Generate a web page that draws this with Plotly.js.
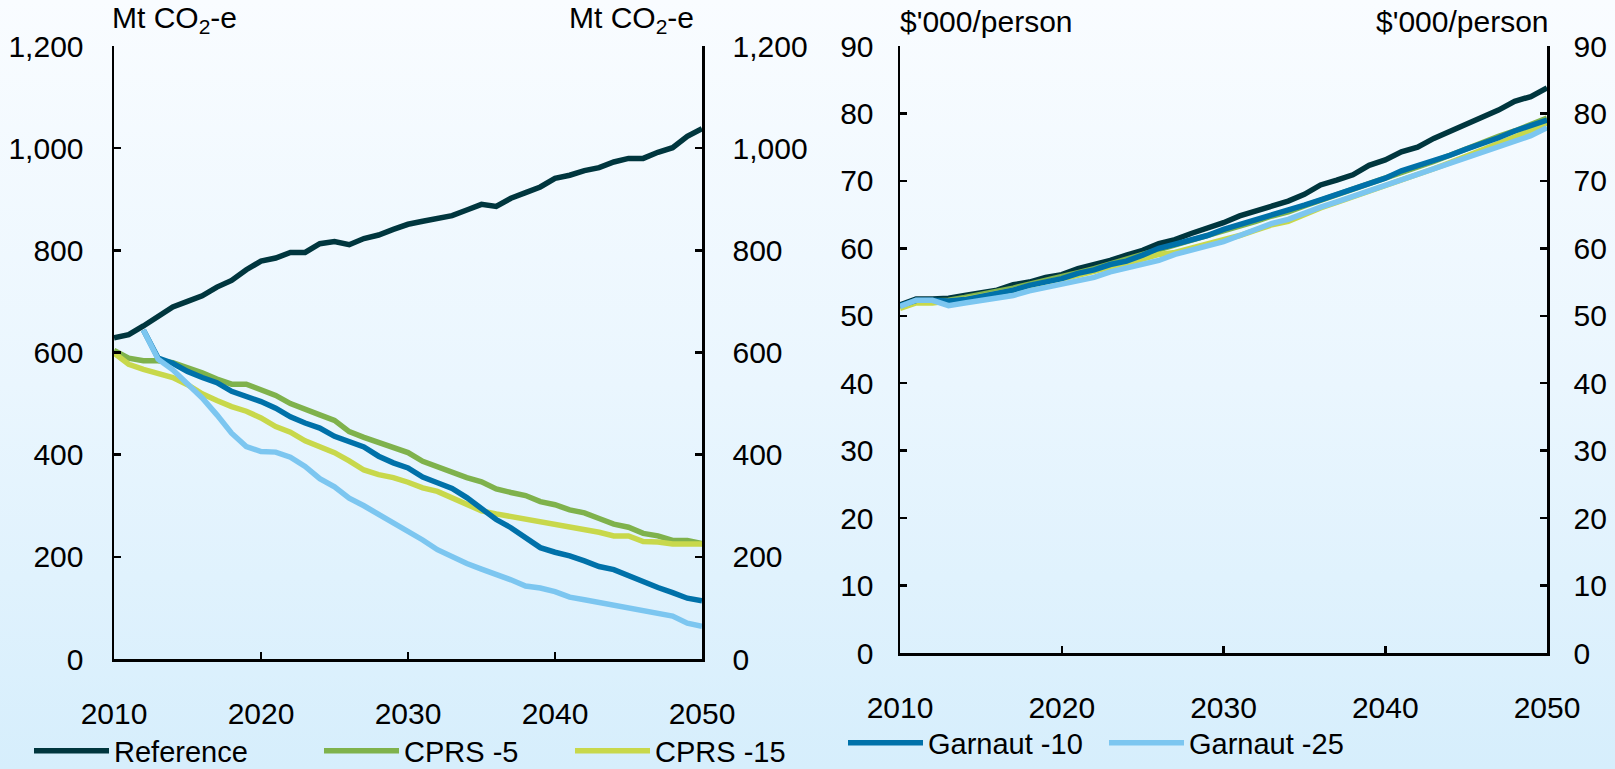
<!DOCTYPE html>
<html>
<head>
<meta charset="utf-8">
<script src="https://cdn.plot.ly/plotly-3.0.1.min.js"></script>
<style>
  html, body { margin: 0; padding: 0; }
  body { width: 1615px; height: 769px; background: linear-gradient(to bottom, #f9fcff 0%, #eaf6fe 50%, #d6eefc 100%); overflow: hidden; }
  #chart { width: 1615px; height: 769px; }
</style>
</head>
<body>
<div id="chart"></div>
<script>
// ---------- data ----------
var years = [2010,2011,2012,2013,2014,2015,2016,2017,2018,2019,
             2020,2021,2022,2023,2024,2025,2026,2027,2028,2029,
             2030,2031,2032,2033,2034,2035,2036,2037,2038,2039,
             2040,2041,2042,2043,2044,2045,2046,2047,2048,2049,2050];

var seriesNames = ['Reference', 'CPRS -5', 'CPRS -15', 'Garnaut -10', 'Garnaut -25'];

// Emissions, Mt CO2-e (left panel)
var emisReference = [629,635,652,670,689,700,711,728,741,762,
                     779,785,796,796,813,817,811,823,830,841,
                     851,857,863,868,879,890,886,902,913,924,
                     941,947,956,962,973,980,980,992,1001,1023,1038];
var emisCprs5 = [604,589,584,584,580,571,560,548,538,538,
                 527,516,500,488,478,467,445,434,424,413,
                 404,387,376,365,355,347,333,326,320,308,
                 302,292,286,275,264,258,246,241,232,232,226];
var emisCprs15 = [599,577,567,558,551,537,519,506,494,485,
                  472,455,444,427,416,404,388,370,361,355,
                  346,335,328,316,302,290,284,279,274,267,
                  262,257,253,248,241,241,230,229,225,225,225];
var emisGarnaut10 = [null,null,644,589,579,563,551,541,524,514,
                     504,491,474,462,452,436,425,415,397,384,
                     374,356,345,334,316,293,273,257,239,218,
                     209,202,192,181,175,163,151,140,130,119,114];
var emisGarnaut25 = [null,null,644,587,566,540,511,478,442,416,
                     406,405,395,377,353,337,315,300,284,267,
                     252,233,214,199,187,176,166,155,143,139,
                     132,121,116,111,106,100,95,89,84,70,64];

// GNP per person, $'000/person (right panel)
var gdpReference = [51.6,52.5,52.5,52.6,53.0,53.4,53.8,54.6,55.0,55.7,
                    56.1,57.0,57.5,58.2,59.0,59.7,60.7,61.3,62.2,62.9,
                    63.8,64.8,65.5,66.3,67.0,68.0,69.4,70.1,70.9,72.3,
                    73.1,74.3,75.0,76.3,77.3,78.5,79.3,80.5,81.8,82.5,83.8];
var gdpCprs5 = [51.4,52.2,52.2,52.3,52.7,53.1,53.5,54.1,54.7,55.2,
                55.7,56.4,57.0,57.7,58.3,59.1,59.8,60.4,61.0,61.7,
                62.6,63.3,64.0,64.8,65.4,66.3,67.1,67.9,68.7,69.5,
                70.3,71.2,72.0,72.9,73.8,74.8,75.7,76.6,77.4,78.3,79.3];
var gdpCprs15 = [51.1,51.9,51.9,52.1,52.5,52.9,53.3,53.8,54.4,54.9,
                 55.3,56.0,56.6,57.3,57.8,58.4,59.1,59.4,60.0,60.6,
                 61.2,61.9,62.7,63.5,64.0,65.1,66.0,66.8,67.6,68.5,
                 69.4,70.2,71.0,71.8,72.7,73.6,74.5,75.5,76.5,77.5,78.6];
var gdpGarnaut10 = [51.5,52.3,52.3,52.2,52.4,52.8,53.2,53.8,54.5,55.0,
                    55.5,56.3,56.8,57.6,58.1,59.0,60.0,60.6,61.2,61.9,
                    62.8,63.5,64.2,64.8,65.5,66.4,67.2,68.0,68.7,69.6,
                    70.4,71.5,72.2,73.0,73.8,74.7,75.5,76.4,77.4,78.2,79.0];
var gdpGarnaut25 = [51.4,52.3,52.3,51.5,51.9,52.3,52.7,53.0,53.7,54.2,
                    54.5,55.2,55.7,56.5,57.0,57.5,58.2,59.1,59.7,60.3,
                    61.0,61.9,62.8,63.7,64.3,65.3,66.1,66.9,67.7,68.6,
                    69.4,70.1,70.9,71.7,72.6,73.3,74.2,75.0,75.9,76.7,77.9];

var leftUnit = 'Mt CO<sub>2</sub>-e';
var rightUnit = "$'000/person";

// ---------- styling ----------
var colors = ['#00363e', '#7fb24c', '#c8d84b', '#0071a9', '#7cc6f0'];
var LW = 5.5;
var FONT = 'Liberation Sans, Arial, sans-serif';
var FS = 30;
var LFS = 29;

var emisData = [emisReference, emisCprs5, emisCprs15, emisGarnaut10, emisGarnaut25];
var gdpData = [gdpReference, gdpCprs5, gdpCprs15, gdpGarnaut10, gdpGarnaut25];
var legendIds = ['legend', 'legend2', 'legend3', 'legend4', 'legend5'];

var traces = [];
for (var i = 0; i < 5; i++) {
  traces.push({
    type: 'scatter', mode: 'lines', x: years, y: emisData[i],
    name: seriesNames[i], legend: legendIds[i], legendgroup: seriesNames[i],
    line: {color: colors[i], width: LW}, xaxis: 'x', yaxis: i >= 3 ? 'y2' : 'y',
    connectgaps: false, hoverinfo: 'skip'
  });
}
for (var j = 0; j < 5; j++) {
  traces.push({
    type: 'scatter', mode: 'lines', x: years, y: gdpData[j],
    name: seriesNames[j], legendgroup: seriesNames[j], showlegend: false,
    line: {color: colors[j], width: LW}, xaxis: 'x2', yaxis: j >= 3 ? 'y4' : 'y3',
    hoverinfo: 'skip'
  });
}

var W = 1615, H = 769;
function px(v) { return v / W; }
function py(v) { return (H - v) / H; }

var tickFont = {family: FONT, size: FS, color: '#000'};
function xAxis(domain, anchor) {
  return {
    domain: domain, anchor: anchor, range: [2010, 2050], tick0: 2010, dtick: 10,
    ticks: 'inside', ticklen: 7, tickwidth: 2.5, tickcolor: '#000',
    showline: true, linewidth: 2.5, linecolor: '#000', mirror: false,
    showgrid: false, zeroline: false, tickfont: tickFont, ticklabelstandoff: 26,
    fixedrange: true
  };
}
function yAxis(domain, range, dtick, fmt, side, overlay, anchor, standoff) {
  var a = {
    domain: domain, range: range, dtick: dtick, tick0: 0, tickformat: fmt, side: side, anchor: anchor,
    ticks: 'inside', ticklen: 7, tickwidth: 2.5, tickcolor: '#000',
    showline: true, linewidth: 2.5, linecolor: '#000',
    showgrid: false, zeroline: false, tickfont: tickFont, ticklabelstandoff: standoff,
    fixedrange: true
  };
  if (overlay) a.overlaying = overlay;
  return a;
}

var leftX = [px(114), px(702)];
var rightX = [px(900), px(1547)];
var leftY = [py(659), py(46)];
var rightY = [py(653), py(46)];

function legendCfg(xp, yp) {
  return {
    x: px(xp), y: py(yp), xanchor: 'left', yanchor: 'middle', orientation: 'h',
    bgcolor: 'rgba(0,0,0,0)', borderwidth: 0, itemwidth: 75, itemclick: false, itemdoubleclick: false,
    font: {family: FONT, size: LFS, color: '#000'}
  };
}

var annFont = {family: FONT, size: FS, color: '#000'};
var layout = {
  width: W, height: H,
  margin: {l: 0, r: 0, t: 0, b: 0, autoexpand: false},
  paper_bgcolor: 'rgba(0,0,0,0)', plot_bgcolor: 'rgba(0,0,0,0)',
  font: {family: FONT, size: FS, color: '#000'},
  xaxis: xAxis(leftX, 'y'),
  yaxis: yAxis(leftY, [0, 1200], 200, ',d', 'left', null, 'x', 22),
  yaxis2: yAxis(leftY, [0, 1200], 200, ',d', 'right', 'y', 'x', 22),
  xaxis2: xAxis(rightX, 'y3'),
  yaxis3: yAxis(rightY, [0, 90], 10, 'd', 'left', null, 'x2', 18),
  yaxis4: yAxis(rightY, [0, 90], 10, 'd', 'right', 'y3', 'x2', 18),
  legend: legendCfg(29, 751),
  legend2: legendCfg(319, 751),
  legend3: legendCfg(570, 751),
  legend4: legendCfg(843, 743),
  legend5: legendCfg(1104, 743),
  annotations: [
    {text: leftUnit, xref: 'x domain', yref: 'y domain', x: 0, y: 1, xanchor: 'left', yanchor: 'bottom', xshift: -4, yshift: 6, showarrow: false, font: annFont},
    {text: leftUnit, xref: 'x domain', yref: 'y domain', x: 1, y: 1, xanchor: 'right', yanchor: 'bottom', xshift: -6, yshift: 6, showarrow: false, font: annFont},
    {text: rightUnit, xref: 'x2 domain', yref: 'y3 domain', x: 0, y: 1, xanchor: 'left', yanchor: 'bottom', xshift: -2, yshift: 6, showarrow: false, font: annFont},
    {text: rightUnit, xref: 'x2 domain', yref: 'y3 domain', x: 1, y: 1, xanchor: 'right', yanchor: 'bottom', xshift: 4, yshift: 6, showarrow: false, font: annFont}
  ],
  showlegend: true
};

Plotly.newPlot('chart', traces, layout, {displayModeBar: false, staticPlot: true});
</script>
</body>
</html>
